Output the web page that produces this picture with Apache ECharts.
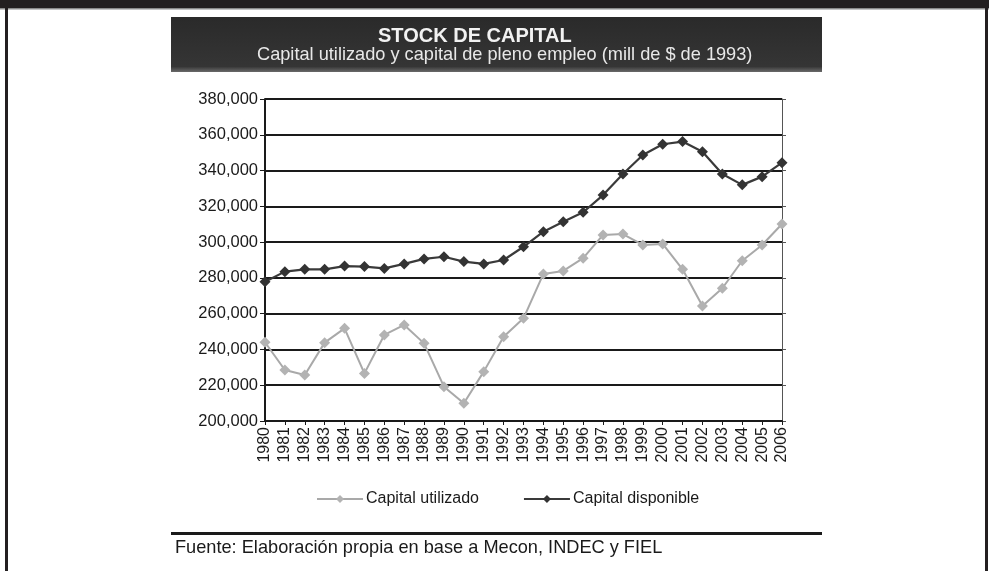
<!DOCTYPE html>
<html>
<head>
<meta charset="utf-8">
<script src="https://cdn.jsdelivr.net/npm/echarts@6/dist/echarts.min.js"></script>
<style>
html,body{margin:0;padding:0;background:#fff;}
#c{width:989px;height:571px;}
</style>
</head>
<body>
<div id="c"></div>
<script>
const years = ['1980','1981','1982','1983','1984','1985','1986','1987','1988','1989','1990','1991','1992','1993','1994','1995','1996','1997','1998','1999','2000','2001','2002','2003','2004','2005','2006'];
const capitalUtilizado = [244000,228500,225700,243800,251800,226600,248100,253700,243400,219200,209900,227600,247100,257400,282200,283900,291000,304000,304500,298400,299000,284800,264300,274200,289600,298400,310100];
const capitalDisponible = [277900,283500,284800,284800,286600,286300,285300,287800,290600,291800,289100,287800,290000,297400,305800,311400,316700,326300,338100,348700,354700,356200,350500,338100,332000,336600,344400];
const yTicks = {min:200000, max:380000, interval:20000};

const FONT = '"Liberation Sans", Arial, sans-serif';
const chart = echarts.init(document.getElementById('c'), null, {renderer:'canvas'});
chart.setOption({
  backgroundColor:'#fff',
  animation:false,
  textStyle:{fontFamily:FONT},
  graphic:[
    {type:'rect', shape:{x:0,y:0,width:989,height:8}, style:{fill:'#231f20'}, silent:true},
    {type:'rect', shape:{x:0,y:8,width:989,height:1.5}, style:{fill:'#8a8a8a'}, silent:true},
    {type:'rect', shape:{x:5,y:0,width:3,height:571}, style:{fill:'#231f20'}, silent:true},
    {type:'rect', shape:{x:985,y:0,width:3,height:571}, style:{fill:'#231f20'}, silent:true},
    {type:'rect', shape:{x:171,y:17,width:651,height:55}, style:{fill:new echarts.graphic.LinearGradient(0,0,0,1,[{offset:0,color:'#2a2a2a'},{offset:0.9,color:'#353535'},{offset:1,color:'#6a6a6a'}])}, silent:true, z:-1},
    {type:'rect', shape:{x:171,y:532,width:651,height:3}, style:{fill:'#1a1a1a'}, silent:true}
  ],
  title:[
    {text:'STOCK DE CAPITAL', left:373, top:21, textStyle:{color:'#f2f2f2', fontSize:20, fontWeight:'bold', fontFamily:FONT}},
    {text:'Capital utilizado y capital de pleno empleo (mill de $ de 1993)', left:252, top:41, textStyle:{color:'#e8e8e8', fontSize:18.2, fontWeight:'normal', fontFamily:FONT}},
    {text:'Fuente: Elaboración propia en base a Mecon, INDEC y FIEL', left:170, top:534, textStyle:{color:'#1a1a1a', fontSize:18.2, fontWeight:'normal', fontFamily:FONT}}
  ],
  legend:{
    left:311, top:486,
    itemWidth:46, itemHeight:10, itemGap:44,
    textStyle:{color:'#1a1a1a', fontSize:16, fontFamily:FONT, padding:[0,0,0,-2]},
    data:['Capital utilizado','Capital disponible']
  },
  grid:{left:265, right:207, top:99, bottom:150, containLabel:false},
  xAxis:{
    type:'category', data:years, boundaryGap:false,
    axisLine:{show:true, lineStyle:{color:'#1a1a1a', width:2}},
    axisTick:{show:true, length:4, lineStyle:{color:'#1a1a1a'}},
    axisLabel:{rotate:90, fontSize:16, color:'#1a1a1a', margin:6, fontFamily:FONT, interval:0}
  },
  yAxis:[
    {
      type:'value', min:yTicks.min, max:yTicks.max, interval:yTicks.interval,
      axisLine:{show:true, lineStyle:{color:'#1a1a1a', width:2}},
      axisTick:{show:true, length:5, lineStyle:{color:'#1a1a1a'}},
      axisLabel:{fontSize:16.5, color:'#1a1a1a', margin:7, fontFamily:FONT, formatter:v=>v.toLocaleString('en-US')},
      splitLine:{show:true, lineStyle:{color:'#1a1a1a', width:2}}
    },
    {
      type:'value', position:'right', min:yTicks.min, max:yTicks.max, interval:yTicks.interval,
      axisLine:{show:true, lineStyle:{color:'#555', width:1}},
      axisTick:{show:true, length:4, lineStyle:{color:'#555'}},
      axisLabel:{show:false}, splitLine:{show:false}
    }
  ],
  series:[
    {name:'Capital utilizado', type:'line', data:capitalUtilizado, symbol:'diamond', symbolSize:11,
     lineStyle:{color:'#a9a9a9', width:2}, itemStyle:{color:'#b3b3b3'}, z:3},
    {name:'Capital disponible', type:'line', data:capitalDisponible, symbol:'diamond', symbolSize:11,
     lineStyle:{color:'#3a3a3a', width:2.2}, itemStyle:{color:'#333333'}, z:4}
  ]
});
</script>
</body>
</html>
